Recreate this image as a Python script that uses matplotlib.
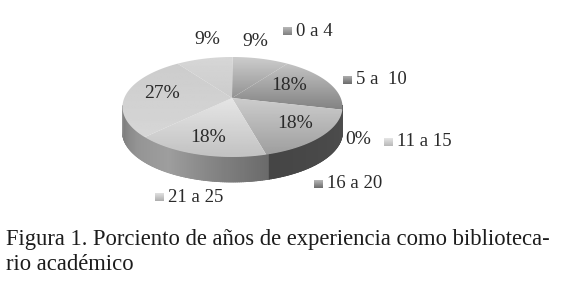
import numpy as np
import matplotlib
matplotlib.use("Agg")
import matplotlib.pyplot as plt
from matplotlib.patches import Polygon

# --- data ---
slice_values = [9, 18, 0, 18, 18, 27, 9]
value_labels = ["9%", "18%", "0%", "18%", "18%", "27%", "9%"]
legend_names = ["0 a 4", "5 a  10", "11 a 15", "16 a 20", "21 a 25"]
caption_lines = ["Figura 1. Porciento de años de experiencia como biblioteca-",
                 "rio académico"]

plt.rcParams["font.family"] = ["Liberation Serif", "DejaVu Serif"]
fig = plt.figure(figsize=(5.8, 2.83), dpi=100)
ax = fig.add_axes([0, 0, 1, 1])
ax.set_xlim(0, 580)
ax.set_ylim(283, 0)
ax.axis("off")

CX, CY, RX, RY, DEPTH = 232.5, 107, 110, 50, 25
AX_, AY_ = 232, 98
TXT = "#2a2a2a"


def pt(theta):
    return CX + RX * np.sin(theta), CY - RY * np.cos(theta)


def gradient(clip, box, g0, g1, z=2):
    arr = np.linspace(g0, g1, 64)[:, None]
    im = ax.imshow(arr, cmap="gray", vmin=0, vmax=1, extent=box, aspect="auto", zorder=z,
                   interpolation="bilinear")
    im.set_clip_path(clip)
    ax.set_xlim(0, 580)
    ax.set_ylim(283, 0)


fractions = np.array(slice_values, float) / sum(slice_values)
edges = np.concatenate([[0], np.cumsum(fractions)]) * 2 * np.pi
edges = edges - 0.09 * np.sin(edges)   # perspective of the tilted pie

top_grad = [(0.80, 0.50), (0.80, 0.50), (0.8, 0.8), (0.80, 0.62), (0.90, 0.76), (0.80, 0.84), (0.84, 0.80)]
grad_span = [(57, 112), (57, 112), None, None, None, None, None]
side_stops_t = np.radians([90, 97, 160, 161, 190, 215, 240, 262, 275])
side_stops_g = [0.30, 0.30, 0.27, 0.42, 0.52, 0.62, 0.58, 0.50, 0.62]

# side wall
thetas = np.radians(np.arange(88, 272, 1.0))
for t0, t1 in zip(thetas[:-1], thetas[1:]):
    x0, y0 = pt(t0)
    x1, y1 = pt(t1 + 0.01)
    g = np.interp(t0, side_stops_t, side_stops_g)
    ax.add_patch(Polygon([(x0, y0), (x1, y1), (x1, y1 + DEPTH), (x0, y0 + DEPTH)],
                         facecolor=str(g), edgecolor=str(g), lw=0.6, zorder=1))

# top face wedges
for i, v in enumerate(slice_values):
    if v == 0:
        continue
    ts = np.linspace(edges[i], edges[i + 1], 60)
    xs, ys = pt(ts)
    verts = np.column_stack([np.r_[AX_, xs], np.r_[AY_, ys]])
    poly = Polygon(verts, closed=True, facecolor="none", edgecolor="none", transform=ax.transData)
    ax.add_patch(poly)
    y_lo, y_hi = grad_span[i] or (verts[:, 1].min(), verts[:, 1].max())
    box = (verts[:, 0].min() - 1, verts[:, 0].max() + 1, y_hi, y_lo)
    gradient(poly, box, top_grad[i][0], top_grad[i][1])

# percentage labels
label_pos = [(255, 41), (289, 86), (358, 140), (295, 124), (208, 138), (162, 93), (207, 39)]
for (x, y), s in zip(label_pos, value_labels):
    ax.text(x, y, s, ha="center", va="center", fontsize=14, color=TXT, zorder=5)

# legend
legend_pos = [(283, 31), (343, 80), (384, 142), (314, 184), (155, 197)]
legend_grad = [(0.72, 0.5), (0.68, 0.42), (0.9, 0.72), (0.72, 0.42), (0.88, 0.68)]
for (x, y), s, (g0, g1) in zip(legend_pos, legend_names, legend_grad):
    sq = Polygon([(x, y - 4), (x + 9, y - 4), (x + 9, y + 4), (x, y + 4)], closed=True,
                 facecolor="none", edgecolor="none")
    ax.add_patch(sq)
    gradient(sq, (x, x + 9, y + 4, y - 4), g0, g1, z=4)
    ax.text(x + 13, y, s, ha="left", va="center", fontsize=13.5, color=TXT, zorder=5)

# caption
ax.text(6, 240, caption_lines[0], ha="left", va="center", fontsize=16.3, color="#1c1c1c")
ax.text(6, 265, caption_lines[1], ha="left", va="center", fontsize=16.3, color="#1c1c1c")

fig.savefig("out.png", dpi=100, facecolor="white")
